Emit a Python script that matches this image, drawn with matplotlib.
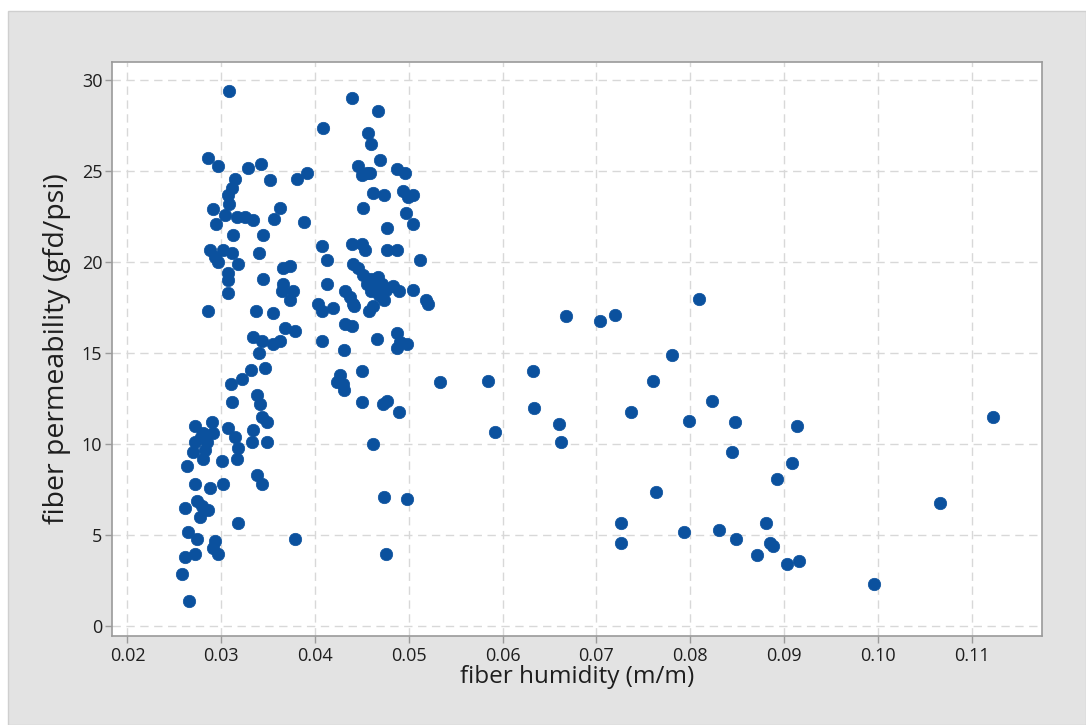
import matplotlib
matplotlib.use("Agg")
import matplotlib.pyplot as plt
from matplotlib.patches import Rectangle

humidity = [
    0.0308, 0.0286, 0.0296, 0.0329, 0.0342, 0.0315, 0.0311, 0.0352, 0.0381, 0.0391,
    0.0307, 0.0308, 0.0291, 0.0304, 0.0317, 0.0325, 0.0334, 0.0294, 0.0363, 0.0356,
    0.0388, 0.0313, 0.0345, 0.0288, 0.0293, 0.0296, 0.0302, 0.0311, 0.0318, 0.0340,
    0.0366, 0.0373, 0.0307, 0.0344, 0.0307, 0.0366, 0.0365, 0.0377, 0.0373, 0.0307,
    0.0286, 0.0337, 0.0355, 0.0368, 0.0379, 0.0334, 0.0343, 0.0355, 0.0363, 0.0340,
    0.0332, 0.0347, 0.0322, 0.0310, 0.0311, 0.0338, 0.0341, 0.0343, 0.0349, 0.0272,
    0.0290, 0.0281, 0.0291, 0.0272, 0.0285, 0.0270, 0.0281, 0.0263, 0.0307, 0.0315,
    0.0318, 0.0317, 0.0301, 0.0334, 0.0333, 0.0349, 0.0338, 0.0343, 0.0272, 0.0288,
    0.0302, 0.0261, 0.0274, 0.0279, 0.0286, 0.0277, 0.0318, 0.0265, 0.0274, 0.0293,
    0.0291, 0.0296, 0.0379, 0.0261, 0.0272, 0.0258, 0.0266, 0.0278, 0.0283,
    # middle cluster
    0.0439, 0.0467, 0.0408, 0.0456, 0.0460, 0.0469, 0.0446, 0.0455, 0.0450, 0.0459,
    0.0487, 0.0496, 0.0462, 0.0474, 0.0494, 0.0499, 0.0504, 0.0451, 0.0497, 0.0477,
    0.0504, 0.0407, 0.0413, 0.0439, 0.0450, 0.0453, 0.0477, 0.0487, 0.0512, 0.0440,
    0.0446, 0.0451, 0.0467, 0.0413, 0.0432, 0.0437, 0.0440, 0.0442, 0.0455, 0.0460,
    0.0466, 0.0471, 0.0460, 0.0468, 0.0476, 0.0483, 0.0489, 0.0473, 0.0462, 0.0457,
    0.0504, 0.0518, 0.0520, 0.0403, 0.0407, 0.0419, 0.0432, 0.0439, 0.0407, 0.0466,
    0.0487, 0.0491, 0.0498, 0.0487, 0.0431, 0.0450, 0.0427, 0.0423, 0.0430, 0.0431,
    0.0450, 0.0472, 0.0477, 0.0489, 0.0462, 0.0474, 0.0498, 0.0476,
    # right side
    0.0533, 0.0584, 0.0632, 0.0633, 0.0592, 0.0660, 0.0662, 0.0668, 0.0704, 0.0720,
    0.0809, 0.0781, 0.0760, 0.0737, 0.0823, 0.0799, 0.0848, 0.0914, 0.1123, 0.0845,
    0.0909, 0.0893, 0.1066, 0.0764, 0.0726, 0.0726, 0.0793, 0.0831, 0.0849, 0.0881,
    0.0885, 0.0888, 0.0871, 0.0903, 0.0916, 0.0996,
]

permeability = [
    29.4, 25.7, 25.3, 25.2, 25.4, 24.6, 24.1, 24.5, 24.6, 24.9,
    23.7, 23.2, 22.9, 22.6, 22.5, 22.5, 22.3, 22.1, 23.0, 22.4,
    22.2, 21.5, 21.5, 20.7, 20.3, 20.0, 20.7, 20.5, 19.9, 20.5,
    19.7, 19.8, 19.4, 19.1, 19.0, 18.8, 18.4, 18.4, 17.9, 18.3,
    17.3, 17.3, 17.2, 16.4, 16.2, 15.9, 15.7, 15.5, 15.7, 15.0,
    14.1, 14.2, 13.6, 13.3, 12.3, 12.7, 12.2, 11.5, 11.2, 11.0,
    11.2, 10.6, 10.6, 10.1, 10.1, 9.6, 9.2, 8.8, 10.9, 10.4,
    9.8, 9.2, 9.1, 10.8, 10.1, 10.1, 8.3, 7.8, 7.8, 7.6,
    7.8, 6.5, 6.9, 6.6, 6.4, 6.0, 5.7, 5.2, 4.8, 4.7,
    4.3, 4.0, 4.8, 3.8, 4.0, 2.9, 1.4, 10.4, 9.7,
    # middle cluster
    29.0, 28.3, 27.4, 27.1, 26.5, 25.6, 25.3, 24.9, 24.8, 24.9,
    25.1, 24.9, 23.8, 23.7, 23.9, 23.6, 23.7, 23.0, 22.7, 21.9,
    22.1, 20.9, 20.1, 21.0, 21.0, 20.7, 20.7, 20.7, 20.1, 19.9,
    19.7, 19.3, 19.2, 18.8, 18.4, 18.1, 17.7, 17.6, 18.8, 19.1,
    18.8, 18.8, 18.4, 18.2, 18.5, 18.7, 18.4, 17.9, 17.6, 17.3,
    18.5, 17.9, 17.7, 17.7, 17.3, 17.5, 16.6, 16.5, 15.7, 15.8,
    16.1, 15.6, 15.5, 15.3, 15.2, 14.0, 13.8, 13.4, 13.3, 13.0,
    12.3, 12.2, 12.4, 11.8, 10.0, 7.1, 7.0, 4.0,
    # right side
    13.4, 13.5, 14.0, 12.0, 10.7, 11.1, 10.1, 17.05, 16.8, 17.1,
    18.0, 14.9, 13.5, 11.8, 12.4, 11.3, 11.2, 11.0, 11.5, 9.6,
    9.0, 8.1, 6.8, 7.4, 5.7, 4.6, 5.2, 5.3, 4.8, 5.7,
    4.6, 4.4, 3.9, 3.4, 3.6, 2.3,
]

x_ticks = [0.02, 0.03, 0.04, 0.05, 0.06, 0.07, 0.08, 0.09, 0.10, 0.11]
x_tick_labels = ["0.02", "0.03", "0.04", "0.05", "0.06", "0.07", "0.08", "0.09", "0.10", "0.11"]
y_ticks = [0, 5, 10, 15, 20, 25, 30]
x_label = "fiber humidity (m/m)"
y_label = "fiber permeability (gfd/psi)"

plt.rcParams['font.family'] = ['Open Sans', 'DejaVu Sans']

W, H = 1086, 725
fig = plt.figure(figsize=(W / 100, H / 100), dpi=100)
fig.patch.set_facecolor("white")
bg = Rectangle((8 / W, 0), (W - 8) / W, (H - 11) / H,
               transform=fig.transFigure, facecolor="#e3e3e3",
               edgecolor="#cfcfcf", linewidth=1.0, zorder=-10)
fig.patches.append(bg)

ax = fig.add_axes([112 / W, (H - 636) / H, (1042 - 112) / W, (636 - 62) / H])
ax.set_zorder(5)
ax.set_facecolor("white")
ax.scatter(humidity, permeability, s=80, color="#0b519e", edgecolors="#0b519e",
           linewidths=0.5, zorder=3)

ax.set_xlim(0.01835, 0.1175)
ax.set_ylim(-0.53, 31.0)
ax.set_xticks(x_ticks)
ax.set_xticklabels(x_tick_labels)
ax.set_yticks(y_ticks)

ax.grid(True, color="#d8d8d8", linestyle=(0, (6, 4)), linewidth=1.0, zorder=0)
ax.set_axisbelow(True)
for s in ax.spines.values():
    s.set_color("#9a9a9a")
    s.set_linewidth(1.2)

ax.tick_params(axis="both", colors="#9a9a9a", labelcolor="#1e1e1e",
               labelsize=13, length=5, width=1)
ax.tick_params(axis="x", pad=3)
ax.tick_params(axis="y", pad=2)
ax.set_xlabel(x_label, fontsize=17.5, color="#1e1e1e", labelpad=0)
ax.set_ylabel(y_label, fontsize=20.5, color="#1e1e1e", labelpad=8)

fig.savefig("out.png", dpi=100)
